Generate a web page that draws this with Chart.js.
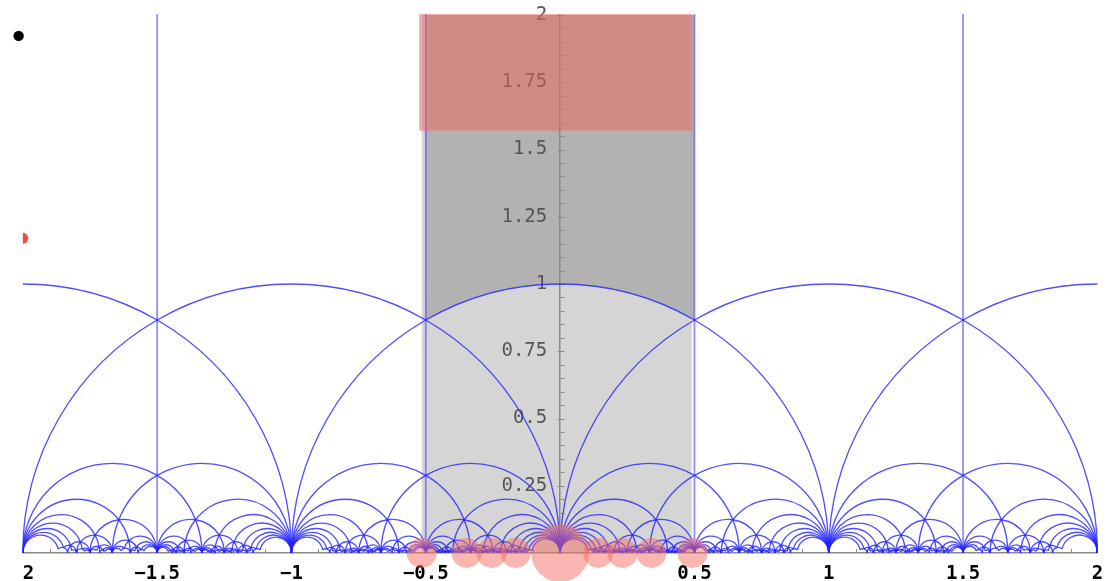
<!DOCTYPE html>
<html>
<head>
<meta charset="utf-8">
<script src="https://cdn.jsdelivr.net/npm/chart.js@4.4.1/dist/chart.umd.min.js"></script>
<style>
  html, body { margin: 0; padding: 0; background: #fff; }
  #wrap { position: relative; width: 1107px; height: 581px; overflow: hidden; }
  #chart { position: absolute; left: 0; top: 0; }
  .bullet { position: absolute; left: 8px; top: 17px; font-family: "DejaVu Sans"; font-size: 36px; line-height: 40px; color: #000; }
</style>
</head>
<body>
<div id="wrap">
  <canvas id="chart" width="1107" height="581"></canvas>
  <div class="bullet">•</div>
</div>
<script>
// ====== Data ======
const xRange = [-2, 2];
const yRange = [0, 2];
const xTickValues = [-2, -1.5, -1, -0.5, 0, 0.5, 1, 1.5, 2];
const xTickLabels = [" 2", "−1.5", "−1", "−0.5", "", "0.5", "1", "1.5", "2"];
const yTickValues = [0, 0.25, 0.5, 0.75, 1, 1.25, 1.5, 1.75, 2];
const yTickLabels = ["", "0.25", "0.5", "0.75", "1", "1.25", "1.5", "1.75", "2"];

// pink discs sitting on the real axis
const cuspX = [-0.515, -0.348, -0.255, -0.165, 0, 0.142, 0.232, 0.34, 0.493];
const cuspR = [15, 15, 15, 15, 29, 15, 15, 15, 15];

// red point cut by the left edge
const edgePointX = [-2];
const edgePointY = [1.17];

// shaded regions
const stripX = [-0.515, 0.49];      // light grey strip, full height
const domainX = [-0.5, 0.5];        // fundamental domain, above |z| = 1
const boxX = [-0.525, 0.492];       // red box
const boxY = [1.57, 2.004];

// tessellation: images of the fundamental domain under words in S, T, T^-1
const generators = [[0, -1, 1, 0], [1, 1, 0, 1], [1, -1, 0, 1]];
const maxWordLength = 10;

// ====== Modular group helpers ======
function mul(g, h) {
  return [g[0] * h[0] + g[1] * h[2], g[0] * h[1] + g[1] * h[3],
          g[2] * h[0] + g[3] * h[2], g[2] * h[1] + g[3] * h[3]];
}
function norm(g) {
  return (g[2] < 0 || (g[2] === 0 && g[3] < 0)) ? g.map(v => -v) : g;
}
function groupBall(n) {
  const seen = new Map();
  let frontier = [[1, 0, 0, 1]];
  seen.set('1,0,0,1', frontier[0]);
  for (let k = 0; k < n; k++) {
    const next = [];
    frontier.forEach(g => generators.forEach(h => {
      const m = norm(mul(g, h));
      const key = m.map(v => v + 0).join(',');
      if (!seen.has(key)) { seen.set(key, m); next.push(m); }
    }));
    frontier = next;
  }
  return [...seen.values()];
}
// moebius action, null stands for infinity
function act(g, p) {
  const [a, b, c, d] = g;
  if (p === null) return c === 0 ? null : [a / c, 0];
  const [x, y] = p;
  const nr = a * x + b, ni = a * y, dr = c * x + d, di = c * y;
  const den = dr * dr + di * di;
  return [(nr * dr + ni * di) / den, (ni * dr - nr * di) / den];
}

function buildEdges() {
  const rho = [0.5, Math.sqrt(3) / 2], rho2 = [-0.5, Math.sqrt(3) / 2];
  const sides = [[rho2, rho], [rho2, null], [rho, null]];
  const seen = new Set();
  const arcs = [], lines = [];
  groupBall(maxWordLength).forEach(g => {
    sides.forEach(([s0, s1]) => {
      const P = act(g, s0), Q = act(g, s1);
      const key = [P, Q].map(p => p ? p[0].toFixed(6) + ':' + p[1].toFixed(6) : 'inf').sort().join('|');
      if (seen.has(key)) return;
      seen.add(key);
      if (Q === null) {
        lines.push([P[0], P[1], Infinity]);
      } else if (Math.abs(P[0] - Q[0]) < 1e-9) {
        lines.push([P[0], Math.min(P[1], Q[1]), Math.max(P[1], Q[1])]);
      } else {
        const c = (P[0] * P[0] + P[1] * P[1] - Q[0] * Q[0] - Q[1] * Q[1]) / (2 * (P[0] - Q[0]));
        const r = Math.hypot(P[0] - c, P[1]);
        const t1 = Math.atan2(P[1], P[0] - c), t2 = Math.atan2(Q[1], Q[0] - c);
        if (c + r < xRange[0] - 0.01 || c - r > xRange[1] + 0.01 || r < 0.001) return;
        arcs.push([c, r, Math.min(t1, t2), Math.max(t1, t2)]);
      }
    });
  });
  return { arcs, lines };
}

const edges = buildEdges();

// ====== Drawing plugin ======
const tessellation = {
  id: 'tessellation',
  beforeDraw(chart) {
    const { ctx, scales: { x, y } } = chart;
    ctx.save();
    // light strip
    ctx.fillStyle = '#d4d5d4';
    ctx.fillRect(x.getPixelForValue(stripX[0]), y.getPixelForValue(yRange[1]),
      x.getPixelForValue(stripX[1]) - x.getPixelForValue(stripX[0]),
      y.getPixelForValue(yRange[0]) - y.getPixelForValue(yRange[1]));
    // fundamental domain
    const cx = x.getPixelForValue(0), cy = y.getPixelForValue(0);
    const rx = x.getPixelForValue(1) - cx, ry = cy - y.getPixelForValue(1);
    const h = Math.sqrt(1 - domainX[0] * domainX[0]);
    ctx.fillStyle = '#b1b2b1';
    ctx.beginPath();
    ctx.moveTo(x.getPixelForValue(domainX[0]), y.getPixelForValue(yRange[1]));
    ctx.lineTo(x.getPixelForValue(domainX[0]), y.getPixelForValue(h));
    ctx.ellipse(cx, cy, rx, ry, 0, 4 * Math.PI / 3, 5 * Math.PI / 3, false);
    ctx.lineTo(x.getPixelForValue(domainX[1]), y.getPixelForValue(yRange[1]));
    ctx.closePath();
    ctx.fill();
    ctx.restore();
  },
  beforeDatasetsDraw(chart) {
    const { ctx, chartArea, scales: { x, y } } = chart;
    ctx.save();
    ctx.beginPath();
    ctx.rect(chartArea.left, chartArea.top - 1, chartArea.right - chartArea.left, chartArea.bottom - chartArea.top + 1);
    ctx.clip();

    // axis minor ticks
    ctx.strokeStyle = '#8a8a8a';
    ctx.lineWidth = 1;
    const ax = Math.round(x.getPixelForValue(0)) + 0.5;
    for (let i = 1; i <= 40; i++) {
      const py = Math.round(y.getPixelForValue(i * 0.05)) + 0.5;
      const major = i % 5 === 0;
      ctx.beginPath();
      ctx.moveTo(ax - (major ? 3 : 0), py);
      ctx.lineTo(ax + 4, py);
      ctx.stroke();
    }
    const ay = y.getPixelForValue(0);
    for (let i = -20; i <= 20; i++) {
      const px = Math.round(x.getPixelForValue(i * 0.1)) + 0.5;
      ctx.beginPath();
      ctx.moveTo(px, ay);
      ctx.lineTo(px, ay - (i % 5 === 0 ? 6 : 4));
      ctx.stroke();
    }

    const y0 = y.getPixelForValue(0);
    // vertical pieces
    ctx.strokeStyle = 'rgba(70,70,255,0.6)';
    ctx.lineWidth = 1.8;
    edges.lines.forEach(([lx, ya, yb]) => {
      const px = x.getPixelForValue(lx);
      ctx.beginPath();
      ctx.moveTo(px, y.getPixelForValue(Math.min(yb, yRange[1] + 0.05)));
      ctx.lineTo(px, y.getPixelForValue(ya));
      ctx.stroke();
    });

    // arcs
    ctx.strokeStyle = 'rgba(35,35,255,0.8)';
    ctx.lineWidth = 1.35;
    edges.arcs.forEach(([c, r, t0, t1]) => {
      const pc = x.getPixelForValue(c);
      const rx = x.getPixelForValue(c + r) - pc;
      const ry = y0 - y.getPixelForValue(r);
      ctx.beginPath();
      ctx.ellipse(pc, y0, rx, ry, 0, -t1, -t0);
      ctx.stroke();
    });
    ctx.restore();

    // red box over the top of the strip
    ctx.save();
    ctx.fillStyle = 'rgba(240,100,90,0.5)';
    const bx0 = x.getPixelForValue(boxX[0]), bx1 = x.getPixelForValue(boxX[1]);
    const by0 = y.getPixelForValue(boxY[1]), by1 = y.getPixelForValue(boxY[0]);
    ctx.fillRect(bx0, by0, bx1 - bx0, by1 - by0);
    ctx.restore();
  }
};

const noPadding = (scale) => {
  scale.paddingLeft = 0; scale.paddingRight = 0;
  scale.paddingTop = 0; scale.paddingBottom = 0;
};

// ====== Chart ======
const ctx = document.getElementById('chart').getContext('2d');
new Chart(ctx, {
  type: 'bubble',
  data: {
    datasets: [
      {
        data: cuspX.map((v, i) => ({ x: v, y: 0, r: cuspR[i] })),
        backgroundColor: 'rgba(245,110,100,0.5)',
        borderWidth: 0,
        clip: false
      },
      {
        data: edgePointX.map((v, i) => ({ x: v, y: edgePointY[i], r: 5.5 })),
        backgroundColor: 'rgb(232,80,72)',
        borderWidth: 0,
        clip: 0
      }
    ]
  },
  options: {
    responsive: false,
    animation: false,
    devicePixelRatio: 1,
    layout: { autoPadding: false, padding: { left: 22.8, right: 9.6, top: 15, bottom: 0 } },
    plugins: { legend: { display: false }, tooltip: { enabled: false } },
    scales: {
      x: {
        type: 'linear',
        position: 'bottom',
        min: xRange[0],
        max: xRange[1],
        afterFit: (scale) => { scale.height = 28; noPadding(scale); },
        afterBuildTicks: (scale) => { scale.ticks = xTickValues.map(v => ({ value: v })); },
        ticks: {
          autoSkip: false,
          maxRotation: 0,
          padding: 2,
          color: '#000',
          font: { family: 'DejaVu Sans Mono', size: 19, weight: 'bold' },
          callback: (v) => xTickLabels[xTickValues.indexOf(v)]
        },
        grid: { display: false },
        border: { display: true, color: '#8a8a8a', width: 1.5 }
      },
      y: {
        type: 'linear',
        position: { x: 0 },
        min: yRange[0],
        max: yRange[1],
        afterFit: noPadding,
        ticks: { display: false },
        grid: { display: false },
        border: { display: true, color: '#8a8a8a', width: 1.5 }
      },
      yLabels: {
        type: 'linear',
        axis: 'y',
        position: { x: -0.048 },
        min: yRange[0],
        max: yRange[1],
        afterFit: noPadding,
        afterBuildTicks: (scale) => { scale.ticks = yTickValues.map(v => ({ value: v })); },
        ticks: {
          autoSkip: false,
          color: '#555',
          font: { family: 'DejaVu Sans Mono', size: 19 },
          callback: (v) => yTickLabels[yTickValues.indexOf(v)]
        },
        grid: { display: false },
        border: { display: false }
      }
    }
  },
  plugins: [tessellation]
});
</script>
</body>
</html>
